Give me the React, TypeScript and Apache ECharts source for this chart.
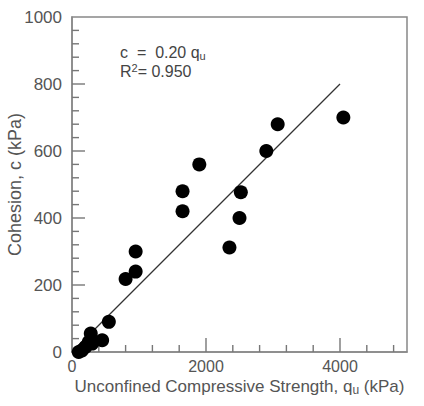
import React, { useEffect, useRef } from "react";
import * as echarts from "echarts";

const quValues = [100, 150, 200, 250, 300, 280, 450, 550, 800, 950, 950, 1650, 1650, 1900, 2350, 2500, 2520, 2900, 3070, 4050];
const cValues = [0, 5, 15, 30, 25, 55, 35, 90, 218, 240, 300, 420, 480, 560, 312, 400, 477, 600, 680, 700];
const fitLine = [[0, 0], [4000, 800]];
const xTicks = { min: 0, max: 5000, interval: 2000, minorStep: 400 };
const yTicks = { min: 0, max: 1000, interval: 200, minorStep: 40 };

const FONT = "Liberation Sans, Arial, sans-serif";
const TXT = "#555";
const AX = "#888";
const TICK = "#777";

function tickItems(kind: number, t: { min: number; max: number; interval: number; minorStep: number }, major: number, minor: number) {
  const out: number[][] = [];
  const n = Math.round((t.max - t.min) / t.minorStep);
  for (let i = 1; i < n; i++) {
    const v = t.min + i * t.minorStep;
    const isMajor = Math.abs(v / t.interval - Math.round(v / t.interval)) < 1e-9;
    out.push([kind, v, isMajor ? major : minor]);
  }
  return out;
}

export default function App() {
  const ref = useRef<HTMLDivElement>(null);
  useEffect(() => {
    const chart = echarts.init(ref.current!, null, { renderer: "svg" });
    const points = quValues.map((q, i) => [q, cValues[i]]);
    const ticks = [...tickItems(0, xTicks, 14, 7), ...tickItems(1, yTicks, 13, 7)];
    chart.setOption({
      animation: false,
      backgroundColor: "#fff",
      grid: { left: 72, top: 17, right: 17, bottom: 54, outerBoundsMode: "none", show: true, borderColor: AX, borderWidth: 1.5 },
      xAxis: {
        type: "value",
        min: xTicks.min,
        max: xTicks.max,
        interval: xTicks.interval,
        axisLine: { show: true, onZero: false, lineStyle: { color: AX, width: 1.5 } },
        axisTick: { show: false },
        splitLine: { show: false },
        axisLabel: { color: TXT, fontSize: 16, fontFamily: FONT, margin: 6, showMaxLabel: false, formatter: (v: number) => String(v) },
        name: "Unconfined Compressive Strength, q{sub|u} (kPa)",
        nameLocation: "middle",
        nameGap: 24,
        nameMoveOverlap: false,
        nameTextStyle: {
          color: TXT, fontSize: 17, fontFamily: FONT,
          rich: { sub: { fontSize: 12, color: TXT, fontFamily: FONT, padding: [8, 0, 0, 0] } },
        },
      },
      yAxis: {
        type: "value",
        min: yTicks.min,
        max: yTicks.max,
        interval: yTicks.interval,
        axisLine: { show: true, onZero: false, lineStyle: { color: AX, width: 1.5 } },
        axisTick: { show: false },
        splitLine: { show: false },
        axisLabel: { color: TXT, fontSize: 17, fontFamily: FONT, margin: 10, formatter: (v: number) => String(v) },
        name: "Cohesion, c (kPa)",
        nameLocation: "middle",
        nameGap: 48,
        nameMoveOverlap: false,
        nameTextStyle: { color: TXT, fontSize: 18, fontFamily: FONT },
      },
      graphic: [
        {
          type: "text", left: 120, top: 44,
          style: {
            text: "c  =  0.20 q{sub|u}", fill: "#444", fontSize: 16, fontFamily: FONT,
            rich: { sub: { fontSize: 11, fill: "#444", fontFamily: FONT, padding: [7, 0, 0, 0] } },
          },
        },
        {
          type: "text", left: 120, top: 62,
          style: {
            text: "R{sup|2}= 0.950", fill: "#444", fontSize: 16, fontFamily: FONT,
            rich: { sup: { fontSize: 11, fill: "#444", fontFamily: FONT, padding: [0, 0, 7, 0] } },
          },
        },
      ],
      series: [
        {
          type: "custom",
          data: ticks,
          silent: true,
          z: 5,
          renderItem: (_params: any, api: any) => {
            const kind = api.value(0);
            const v = api.value(1);
            const len = api.value(2);
            if (kind === 0) {
              const p = api.coord([v, yTicks.min]);
              return { type: "line", shape: { x1: p[0], y1: p[1], x2: p[0], y2: p[1] - len }, style: { stroke: TICK, lineWidth: 1.4 } };
            }
            const p = api.coord([xTicks.min, v]);
            return { type: "line", shape: { x1: p[0], y1: p[1], x2: p[0] + len, y2: p[1] }, style: { stroke: TICK, lineWidth: 1.4 } };
          },
        },
        {
          type: "line",
          data: fitLine,
          symbol: "none",
          lineStyle: { color: "#333", width: 1.2 },
          z: 4,
        },
        {
          type: "scatter",
          data: points,
          symbol: "circle",
          symbolSize: 14,
          itemStyle: { color: "#000", opacity: 1 },
          z: 6,
        },
      ],
    });
    return () => chart.dispose();
  }, []);
  return <div ref={ref} style={{ width: 424, height: 406, position: "absolute", left: 0, top: 0 }} />;
}
